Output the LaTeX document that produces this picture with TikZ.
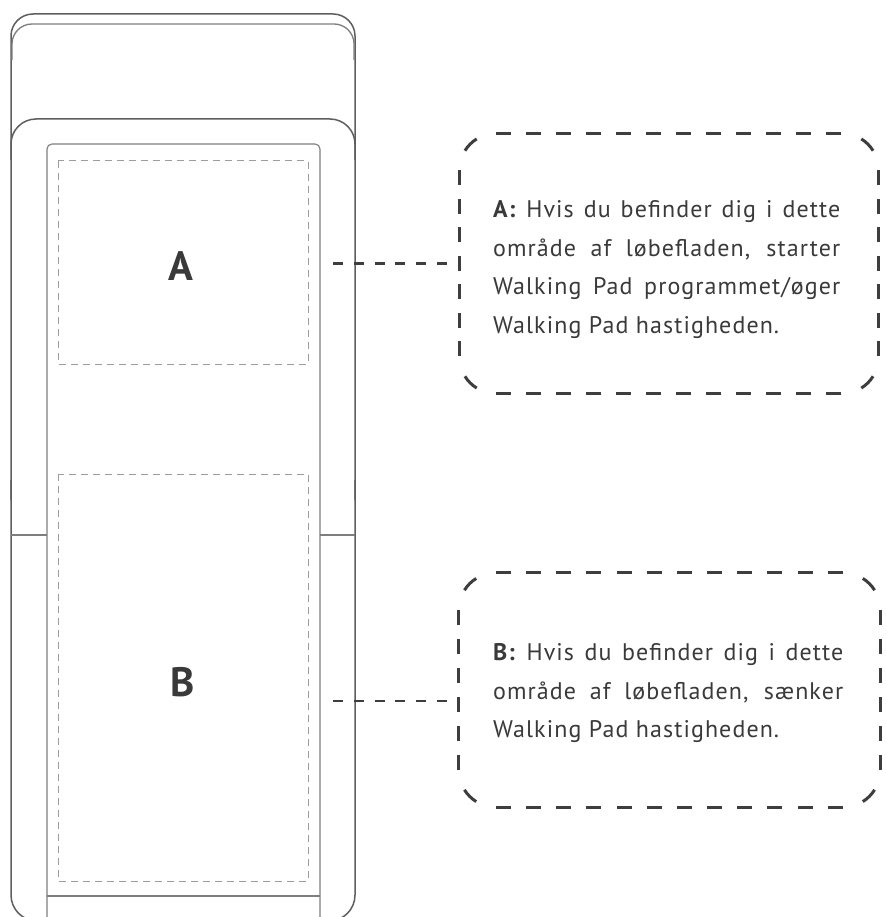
\documentclass[tikz,border=0pt]{standalone}
\usepackage{fontspec}
\setmainfont{PT Sans}
\newfontfamily\calltext[LetterSpace=4.5]{PT Sans}
\definecolor{bodyc}{HTML}{5E5E5E}
\definecolor{beltc}{HTML}{7E7E7E}
\definecolor{zonec}{HTML}{9C9C9C}
\definecolor{inkc}{HTML}{3E3E3E}
\definecolor{txtc}{HTML}{3A3A3A}
\tikzset{
  body/.style={draw=bodyc, line width=1.5pt},
  belt/.style={draw=beltc, line width=1.1pt},
  zone/.style={draw=zonec, line width=1pt, dash pattern=on 7pt off 5pt},
  frame/.style={draw=inkc, line width=3pt},
  conn/.style={draw=inkc, line width=2.7pt, dash pattern=on 10pt off 10.8pt},
  boxshape/.style={rectangle, inner sep=0pt, draw=none},
  bigletter/.style={inner sep=0pt, text=txtc, font=\fontsize{41}{41}\selectfont\bfseries},
  txtline/.style={inner sep=0pt, anchor=base west, text=txtc, font=\calltext\fontsize{24}{26}\selectfont}
}
\newcommand\callframe[5]{%
  \pgfmathsetmacro\cfr{37}%
  \pgfmathsetmacro\cfgt{(#2-2*\cfr-15*#4)/(#4-1)}%
  \pgfmathsetmacro\cfgs{(#3-2*\cfr-15*#5)/(#5-1)}%
  \draw[frame, dash pattern=on 15pt off \cfgt pt] ([xshift=\cfr pt]#1.north west) -- ([xshift=-\cfr pt]#1.north east);
  \draw[frame, dash pattern=on 15pt off \cfgt pt] ([xshift=\cfr pt]#1.south west) -- ([xshift=-\cfr pt]#1.south east);
  \draw[frame, dash pattern=on 15pt off \cfgs pt] ([yshift=-\cfr pt]#1.north west) -- ([yshift=\cfr pt]#1.south west);
  \draw[frame, dash pattern=on 15pt off \cfgs pt] ([yshift=-\cfr pt]#1.north east) -- ([yshift=\cfr pt]#1.south east);
  \draw[frame] ([shift={(\cfr pt,-\cfr pt)}]#1.north west) ++(122:\cfr pt) arc[start angle=122, end angle=148, radius=\cfr pt];
  \draw[frame] ([shift={(-\cfr pt,-\cfr pt)}]#1.north east) ++(32:\cfr pt) arc[start angle=32, end angle=58, radius=\cfr pt];
  \draw[frame] ([shift={(\cfr pt,\cfr pt)}]#1.south west) ++(212:\cfr pt) arc[start angle=212, end angle=238, radius=\cfr pt];
  \draw[frame] ([shift={(-\cfr pt,\cfr pt)}]#1.south east) ++(302:\cfr pt) arc[start angle=302, end angle=328, radius=\cfr pt];
}
\begin{document}
\begin{tikzpicture}[x=1pt,y=1pt]
\useasboundingbox[fill=white] (0,0) rectangle (885,-917);
\clip (0,0) rectangle (885,-917);
% treadmill body
\draw[body, rounded corners=22] (11,-500) -- (11,-14) -- (355,-14) -- (355,-500);
\draw[body, rounded corners=26] (11,-480) -- (11,-921) -- (355,-921) -- (355,-480);
\draw[body, draw=beltc, line width=1.3pt, rounded corners=20] (12,-60) -- (12,-24) -- (354,-24) -- (354,-60);
\draw[body, rounded corners=25] (11,-160) -- (11,-119) -- (355,-119) -- (355,-160);
% belt
\draw[belt, rounded corners=5] (47,-930) -- (47,-144) -- (320,-144) -- (320,-930);
\draw[belt] (47,-896) -- (320,-896);
\draw[belt] (11,-535) -- (47,-535);
\draw[belt] (320,-535) -- (355,-535);
% zones
\draw[zone] (58,-161) rectangle (308,-364);
\draw[zone] (58,-474) rectangle (308,-881);
\node[bigletter] (la) at (181,-266.5) {A};
\node[bigletter] (lb) at (182.5,-682.5) {B};
% callout boxes
\node[boxshape, minimum width=419pt, minimum height=260pt] (boxA) at (669,-263.5) {};
\node[boxshape, minimum width=421pt, minimum height=234pt] (boxB) at (669.5,-690) {};
\callframe{boxA}{419}{260}{12}{7}
\callframe{boxB}{421}{234}{12}{6}
% texts
\node[txtline] (ta1) at (493,-217.7) {\makebox[347pt][s]{\textbf{A:} Hvis du befinder dig i dette}};
\node[txtline] (ta2) at (493,-256.2) {\makebox[347pt][s]{område af løbefladen, starter}};
\node[txtline] (ta3) at (493,-294.7) {\makebox[347pt][s]{Walking Pad programmet/øger}};
\node[txtline] (ta4) at (493,-333.2) {Walking Pad hastigheden.};
\node[txtline] (tb1) at (493,-660.7) {\makebox[350pt][s]{\textbf{B:} Hvis du befinder dig i dette}};
\node[txtline] (tb2) at (493,-699.2) {\makebox[350pt][s]{område af løbefladen, sænker}};
\node[txtline] (tb3) at (493,-737.7) {Walking Pad hastigheden.};
% connectors
\coordinate (cA) at (333,-263.5);
\coordinate (cB) at (333,-701);
\draw[conn] (cA) -- ([xshift=-12pt]boxA.west);
\draw[conn] (cB) -- ([xshift=-12pt]cB -| boxB.west);
\end{tikzpicture}
\end{document}
